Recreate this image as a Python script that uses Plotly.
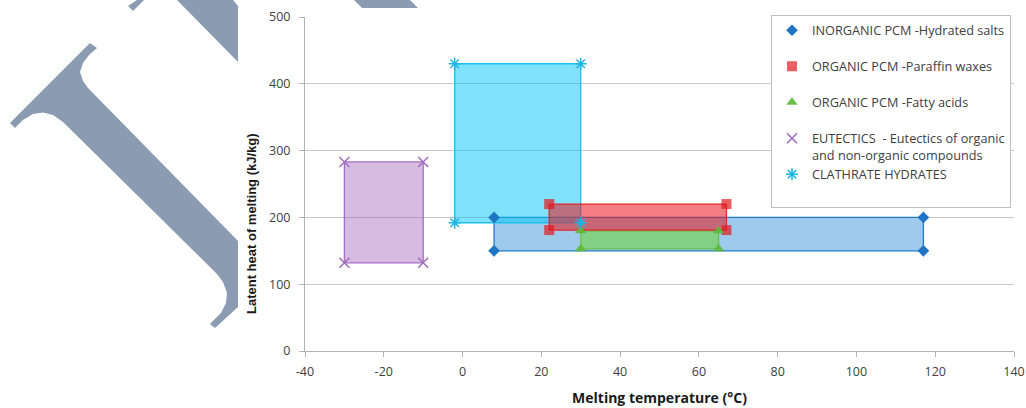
import plotly.graph_objects as go

# ---------------- data ----------------
categories = [
    "INORGANIC PCM -Hydrated salts",
    "ORGANIC PCM -Paraffin waxes",
    "ORGANIC PCM -Fatty acids",
    "EUTECTICS  - Eutectics of organic<br>and non-organic compounds",
    "CLATHRATE HYDRATES",
]
t_min = [8, 22, 30, -30, -2]      # melting temperature range (°C)
t_max = [117, 67, 65, -10, 30]
h_min = [150, 181, 153, 132, 192]  # latent heat range (kJ/kg)
h_max = [200, 220, 180, 283, 430]

x_ticks = [-40, -20, 0, 20, 40, 60, 80, 100, 120, 140]
y_ticks = [0, 100, 200, 300, 400, 500]

# ---------------- styles ----------------
line_colors = ["#2078c8", "#e3262c", "#6cc04a", "#a46cc4", "#1cc0ee"]
fill_colors = ["rgba(40,140,210,0.45)", "rgba(235,20,25,0.55)", "rgb(130,208,132)",
               "rgba(150,80,180,0.38)", "rgba(0,195,245,0.5)"]
marker_symbols = ["diamond", "square", "triangle-up", "x-thin-open", "asterisk-open"]
marker_colors = ["#1f74c4", "rgba(225,25,30,0.7)", "rgba(90,185,60,0.9)", "#9f6bc0", "#1ab8e6"]
marker_sizes = [9, 10, 10, 10, 10]
draw_order = [0, 4, 3, 2, 1]

# the page body margin is removed (post_script), so figure pixels == screen pixels
W, H = 1026, 408
# plot area on screen: x 305..1014, y 17..351
ML, MR, MT, MB = 305, W - 1014, 17, H - 351
PW, PH = W - ML - MR, H - MT - MB


def sx(px):  # screen x -> paper x
    return (px - ML) / PW


def sy(py):  # screen y -> paper y
    return (H - MB - py) / PH


fig = go.Figure()

# filled rectangles (range boxes)
for i in draw_order:
    xs = [t_min[i], t_max[i], t_max[i], t_min[i], t_min[i]]
    ys = [h_min[i], h_min[i], h_max[i], h_max[i], h_min[i]]
    fig.add_trace(go.Scatter(
        x=xs, y=ys, mode="lines", fill="toself", fillcolor=fill_colors[i],
        line=dict(color=line_colors[i], width=1.3), showlegend=False, hoverinfo="skip"))

# corner markers (legend entries)
for i in range(len(categories)):
    xs = [t_min[i], t_max[i], t_max[i], t_min[i]]
    ys = [h_min[i], h_min[i], h_max[i], h_max[i]]
    name = categories[i] if "<br>" in categories[i] else categories[i] + "<br> "
    sym = marker_symbols[i]
    mk = dict(symbol=sym, size=marker_sizes[i], color=marker_colors[i])
    if sym.endswith("open"):
        mk["line"] = dict(color=marker_colors[i], width=1.5)
    fig.add_trace(go.Scatter(x=xs, y=ys, mode="markers", marker=mk, name=name))

# ---------------- watermark (decoration, screen-pixel polygons) ----------------
wm_pieces = [
    [(10, 123), (90, 43), (97, 48), (89, 55), (83, 63), (80, 72), (83, 81), (88, 88),
     (238, 241), (238, 307), (215, 328), (210, 324), (221, 313), (226, 303), (227, 293),
     (223, 282), (217, 274), (210, 267), (63, 122), (53, 115), (43, 112.5), (33, 114),
     (23, 120), (15, 128)],
    [(177, 0), (233, 0), (238, 6), (238, 62)],
    [(354, 0), (410, 0), (418, 8), (362, 8)],
    [(128, 6), (133, 11), (144, 0), (137, 0)],
]
shapes = []
for pts in wm_pieces:
    path = "M " + " L ".join(f"{sx(px):.5f},{sy(py):.5f}" for px, py in pts) + " Z"
    shapes.append(dict(type="path", xref="paper", yref="paper", path=path,
                       fillcolor="#8b9bb1", line=dict(width=0), layer="below"))

tick_font = dict(family="Open Sans", size=12.5, color="#404040")

fig.update_layout(
    width=W, height=H,
    margin=dict(l=ML, r=MR, t=MT, b=MB, autoexpand=False),
    paper_bgcolor="white", plot_bgcolor="white",
    shapes=shapes,
    showlegend=True,
    legend=dict(
        x=sx(771), xanchor="left", y=sy(14.5), yanchor="top",
        bgcolor="white", bordercolor="#bfbfbf", borderwidth=1,
        font=dict(family="Open Sans", size=12.7, color="#404040"),
        valign="top", traceorder="normal",
    ),
    xaxis=dict(
        range=[-40, 140], tickvals=x_ticks, ticktext=[str(v) for v in x_ticks],
        showgrid=False, zeroline=False, showline=True, linecolor="#b3b3b3", linewidth=1,
        ticks="outside", ticklen=5, tickcolor="#b3b3b3", tickfont=tick_font,
        ticklabelstandoff=4, automargin=False, ticklabeloverflow="allow",
        title=dict(text="<b>Melting temperature (°C)</b>", standoff=14,
                   font=dict(family="Open Sans", size=14, color="#1a1a1a")),
    ),
    yaxis=dict(
        range=[0, 500], tickvals=y_ticks, ticktext=[str(v) for v in y_ticks],
        showgrid=True, gridcolor="#c8c8c8", gridwidth=1, zeroline=False,
        showline=True, linecolor="#b3b3b3", linewidth=1,
        ticks="outside", ticklen=5, tickcolor="#b3b3b3", tickfont=tick_font,
        ticklabelstandoff=6, automargin=False,
    ),
    annotations=[dict(
        text="<b>Latent heat of melting (kJ/kg)</b>", textangle=-90,
        xref="paper", yref="paper", x=sx(251), y=sy(224),
        xanchor="center", yanchor="middle", showarrow=False,
        font=dict(family="Liberation Sans", size=13, color="#1a1a1a"),
    )],
)

fig.write_html("out.html", config={"displayModeBar": False},
               post_script="document.body.style.margin='0px';")
